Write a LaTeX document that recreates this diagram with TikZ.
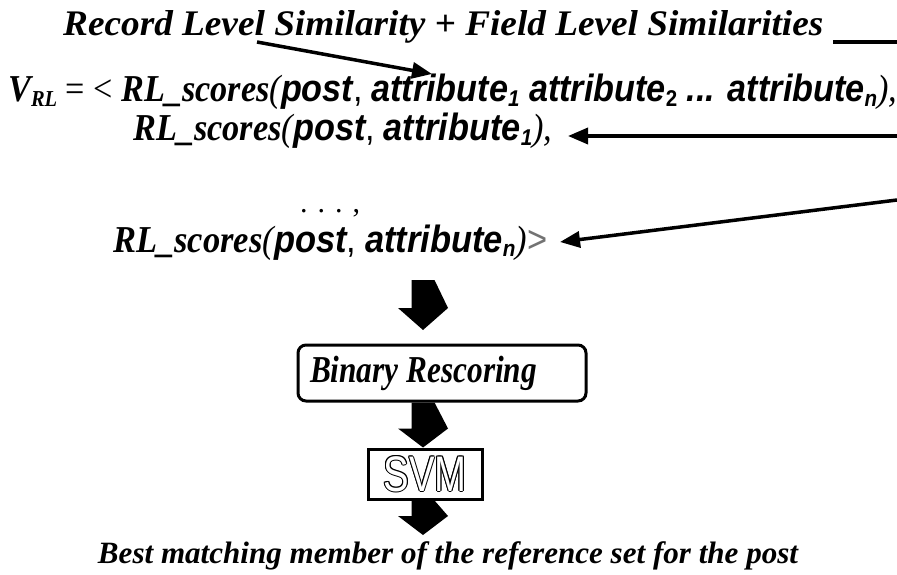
\documentclass[tikz,border=0pt]{standalone}
\usepackage{fontspec}
\usepackage{graphicx}
\usetikzlibrary{arrows.meta,calc}
\setmainfont{Liberation Serif}
\newfontfamily\tnr{Liberation Serif}
\newfontfamily\ars{Liberation Sans}

% serif bold italic and sans bold italic pieces of the formulas
\newcommand\bi[1]{{\tnr\bfseries\itshape #1}}
\newcommand\si[1]{{\ars\bfseries\itshape #1}}
\newcommand\ip[1]{{\tnr\itshape #1}}
\newcommand\sz[1]{\fontsize{#1}{#1}\selectfont}
% small, slightly lowered index
\newcommand\lo[1]{\raisebox{-0.12em}{\scalebox{0.6}{#1}}}

% filled block arrow pointing down: from, to, head length
\newcommand\blockarrow[3]{%
  \fill let \p1=(#1), \p2=(#2) in
    (\x1-11.5pt,\y1) -- (\x1-11.5pt,\y2+#3) -- (\x1-25pt,\y2+#3) --
    (\x2,\y2) -- (\x1+25pt,\y2+#3) -- (\x1+11.5pt,\y1) -- cycle;}

% hollow lettering: black copies around, white copy on top
\newcommand\hollow[2]{%
  \foreach \ang in {0,45,...,359}{%
    \node[inner sep=0,text=black] at ($(#1)+(\ang:1pt)$) {#2};}%
  \node[inner sep=0,text=white] at (#1) {#2};}

\begin{document}
\begin{tikzpicture}[x=1pt,y=-1pt,
  thinarrow/.style={line width=3.5pt,-{Triangle[length=20pt,width=16pt]}},
  stagebox/.style={draw,line width=3pt,rounded corners=8pt,inner sep=0pt,
    minimum width=288pt,minimum height=56pt},
  svmbox/.style={draw,line width=3pt,inner sep=0pt,
    minimum width=114pt,minimum height=50pt}]
\useasboundingbox[fill=white] (0,0) rectangle (897,575);

% heading
\node[anchor=base west,inner sep=0] (head) at (63,36)
  {\resizebox{760pt}{\height}{\sz{36}\bi{Record Level Similarity + Field Level Similarities}}};
\coordinate (ulA) at (833,42);
\coordinate (ulB) at (897,42);
\draw[line width=3.5pt] (ulA) -- (ulB);

% feature vector
\node[anchor=base west,inner sep=0] (vrl) at (8,102)
  {\resizebox{889pt}{\height}{\sz{38}\bi{V\lo{RL}} {\tnr = <} \bi{RL\_scores}\ip{(}\si{post}{\ars,} \si{attribute\lo{1} attribute\lo{\upshape 2} ... attribute\lo{n}}\ip{),}}};
\node[anchor=base west,inner sep=0] (rlone) at (133,141)
  {\resizebox{419pt}{\height}{\sz{38}\bi{RL\_scores}\ip{(}\si{post}{\ars,} \si{attribute\lo{1}}\ip{),}}};
\node[anchor=base west,inner sep=0] (dots) at (300,212)
  {\sz{30}\tnr . . . ,};
\node[anchor=base west,inner sep=0] (rln) at (113,252)
  {\resizebox{434pt}{\height}{\sz{38}\bi{RL\_scores}\ip{(}\si{post}{\ars,} \si{attribute\lo{n}}\ip{)}{\ars\color{black!55}>}}};

% connectors into the vector
\coordinate (a1s) at (257,42);
\coordinate (a1e) at (432,74);
\draw[thinarrow] (a1s) -- (a1e);
\coordinate (a2s) at (897,136);
\coordinate (a2e) at (568,136);
\draw[thinarrow] (a2s) -- (a2e);
\coordinate (a3s) at (897,200);
\coordinate (a3e) at (560,242);
\draw[thinarrow] (a3s) -- (a3e);

% processing chain
\node[stagebox] (bin) at (442,373)
  {\makebox[264pt][l]{\resizebox{227pt}{\height}{\sz{38}\bi{Binary Rescoring}}}};
\node[svmbox] (svm) at (425,474) {};
\hollow{svm}{\resizebox{83pt}{\height}{\sz{50}\ars SVM}}
\node[anchor=base,inner sep=0] (best) at (448,563)
  {\resizebox{700pt}{\height}{\sz{31}\bi{Best matching member of the reference set for the post}}};

\coordinate (b1s) at (423,280);
\coordinate (b1e) at (423,330);
\blockarrow{b1s}{b1e}{22pt}
\blockarrow{bin.south -| b1s}{svm.north -| b1s}{19pt}
\blockarrow{svm.south -| b1s}{423,535}{19pt}
\end{tikzpicture}
\end{document}
